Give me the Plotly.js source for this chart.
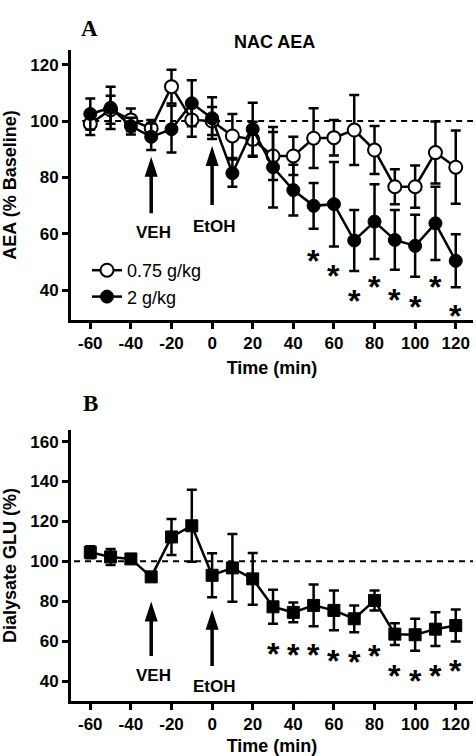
<!DOCTYPE html>
<html>
<head>
<meta charset="utf-8">
<script src="https://cdn.plot.ly/plotly-3.0.1.min.js"></script>
<style>html,body{margin:0;padding:0;background:#fff;}#chart{width:476px;height:756px;}</style>
</head>
<body>
<div id="chart"></div>
<script>
// ---- data ----
const time = [-60,-50,-40,-30,-20,-10,0,10,20,30,40,50,60,70,80,90,100,110,120];
const aeaLow = [99,104,100.4,97.4,112.2,100.4,100,94.7,93.5,87.6,87.6,93.9,94.1,96.8,89.7,76.7,76.7,88.8,83.6];
const aeaLowErr = [4,5,4,3,6,6,5,7.8,6.2,8.5,6.8,10.6,6.3,12.4,8.5,6.2,7.5,11,13];
const aeaHigh = [102.5,104.7,98.2,94.4,97.1,106.3,101,81.5,97.1,83.6,75.5,69.9,70.5,57.6,64.3,57.8,55.7,63.7,50.4];
const aeaHighErr = [5.5,7.5,3,4.7,8.3,8.2,7.4,4.8,9.4,14.3,9,8.1,15,10.8,13.3,10.6,11,13,9.4];
const glu = [104.5,102.2,101.2,92.2,112.2,117.8,93,96.7,91.2,77.2,74.4,77.9,75.4,71.2,80.4,63.5,63.2,66,67.8];
const gluErr = [3,4,1.5,1,9,18,11,17,13,8.5,5,10.5,10,6.7,5,5.5,8,8.5,8];
const starAx = [50,60,70,80,90,100,110,120];
const starAy = [53.1,47.8,38.9,43.9,39.1,36.8,43.9,33.6];
const starBx = [30,40,50,60,70,80,90,100,110,120];
const starBy = [57.3,56.8,56.8,54,53.1,56.5,46.4,43.9,46.4,48.9];
const xTicks = [-60,-40,-20,0,20,40,60,80,100,120];
const xTickText = ['-60','-40','-20','0','20','40','60','80','100','120'];
const yTicksA = [40,60,80,100,120];
const yTicksB = [40,60,80,100,120,140,160];
const arrowLabels = ['VEH','EtOH'];
const arrowX = [-30,0];
const arrowTipA = [87.3,91.1], arrowBaseA = [67.3,70.2], arrowLabelA = [60.5,62.6];
const arrowTipB = [79.9,75.7], arrowBaseB = [52.6,47.6], arrowLabelB = [42.6,37.1];
const legendNames = ['0.75 g/kg','2 g/kg'];

// ---- layout constants ----
const W = 476, H = 756;
const M = {l:71, r:3, t:50, b:55};
const plotW = W - M.l - M.r, plotH = H - M.t - M.b;
const domA = [0.5853, 1], domB = [0, 0.4163];
const rangeX = [-69.5, 128.5];
const rangeA = [29.4, 125.2], rangeB = [30, 165.8];
const pxA = plotH*(domA[1]-domA[0])/(rangeA[1]-rangeA[0]);
const pxB = plotH*(domB[1]-domB[0])/(rangeB[1]-rangeB[0]);
const SANS = 'Liberation Sans, Arial, sans-serif';
const SERIF = 'Liberation Serif, Times New Roman, serif';
const px2paperX = p => (p - M.l)/plotW;
const px2paperY = p => (H - M.b - p)/plotH;

const errStyle = arr => ({type:'data', array:arr, visible:true, color:'#000', thickness:2.5, width:5});

const traces = [
  {x:time, y:aeaLow, xaxis:'x', yaxis:'y', name:legendNames[0], mode:'lines+markers',
   line:{color:'#000', width:2.5},
   marker:{symbol:'circle', size:13, color:'#fff', line:{color:'#000', width:2}},
   error_y:errStyle(aeaLowErr), showlegend:true},
  {x:time, y:aeaHigh, xaxis:'x', yaxis:'y', name:legendNames[1], mode:'lines+markers',
   line:{color:'#000', width:2.5},
   marker:{symbol:'circle', size:13, color:'#000', line:{color:'#000', width:1}},
   error_y:errStyle(aeaHighErr), showlegend:true},
  {x:time, y:glu, xaxis:'x2', yaxis:'y2', name:'GLU', mode:'lines+markers',
   line:{color:'#000', width:2.5},
   marker:{symbol:'square', size:12, color:'#000', line:{color:'#000', width:1}},
   error_y:errStyle(gluErr), showlegend:false}
];

const axisCommon = {
  showline:true, linecolor:'#000', linewidth:3, ticks:'outside', ticklen:6, tickwidth:3, tickcolor:'#000',
  showgrid:false, zeroline:false, tickfont:{family:SANS, size:17, color:'#000', weight:'bold'}, fixedrange:true
};
const titleFont = {family:SANS, size:18, color:'#000', weight:'bold'};

const shapes = [];
function dashLine(xref, yref, x0) {
  shapes.push({type:'line', xref:xref, yref:yref, x0:x0, x1:rangeX[1], y0:100, y1:100, layer:'below',
    line:{color:'#000', width:2, dash:'6px,5px'}});
}
dashLine('x','y',-64);
dashLine('x2','y2',-68);

function arrow(xref, yref, x, tip, base, pxPer) {
  const L = (tip - base)*pxPer;
  shapes.push({type:'path', xref:xref, yref:yref, xsizemode:'pixel', ysizemode:'pixel', xanchor:x, yanchor:tip,
    path:`M0,0 L6.5,-20 L1.75,-20 L1.75,-${L.toFixed(1)} L-1.75,-${L.toFixed(1)} L-1.75,-20 L-6.5,-20 Z`,
    fillcolor:'#000', line:{width:0}});
}
arrowX.forEach((x,i) => {
  arrow('x','y',x,arrowTipA[i],arrowBaseA[i],pxA);
  arrow('x2','y2',x,arrowTipB[i],arrowBaseB[i],pxB);
});

const annotations = [];
const labelFont = {family:SANS, size:17, color:'#000', weight:'bold'};
arrowX.forEach((x,i) => {
  annotations.push({xref:'x', yref:'y', x:x+1, y:arrowLabelA[i], text:arrowLabels[i], showarrow:false, font:labelFont});
  annotations.push({xref:'x2', yref:'y2', x:x+1, y:arrowLabelB[i], text:arrowLabels[i], showarrow:false, font:labelFont});
});
const starFont = {family:SANS, size:32, color:'#000', weight:'bold'};
starAx.forEach((x,i) => annotations.push({xref:'x', yref:'y', x:x, y:starAy[i], text:'*', showarrow:false, font:starFont, yshift:-7.5}));
starBx.forEach((x,i) => annotations.push({xref:'x2', yref:'y2', x:x, y:starBy[i], text:'*', showarrow:false, font:starFont, yshift:-7.5}));
annotations.push({xref:'paper', yref:'paper', x:px2paperX(79), y:px2paperY(14), text:'A', showarrow:false,
  font:{family:SERIF, size:23, color:'#000', weight:'bold'}});
annotations.push({xref:'paper', yref:'paper', x:px2paperX(81), y:px2paperY(403), text:'B', showarrow:false,
  font:{family:SERIF, size:23, color:'#000', weight:'bold'}});
annotations.push({xref:'paper', yref:'paper', x:px2paperX(274), y:px2paperY(30), text:'NAC AEA', showarrow:false,
  font:{family:SANS, size:18, color:'#000', weight:'bold'}});

const layout = {
  width:W, height:H, margin:M, paper_bgcolor:'#fff', plot_bgcolor:'#fff',
  showlegend:true,
  legend:{x:px2paperX(87), y:px2paperY(252), xanchor:'left', yanchor:'top', bgcolor:'rgba(0,0,0,0)',
    font:{family:SANS, size:18, color:'#000'}, tracegroupgap:0, itemclick:false},
  xaxis:Object.assign({}, axisCommon, {domain:[0,1], anchor:'y', range:rangeX, tickvals:xTicks, ticktext:xTickText,
    title:{text:'Time (min)', font:titleFont, standoff:10}}),
  yaxis:Object.assign({}, axisCommon, {domain:domA, anchor:'x', range:rangeA, tickvals:yTicksA,
    title:{text:'AEA (% Baseline)', font:titleFont, standoff:13}}),
  xaxis2:Object.assign({}, axisCommon, {domain:[0,1], anchor:'y2', range:rangeX, tickvals:xTicks, ticktext:xTickText,
    title:{text:'Time (min)', font:titleFont, standoff:6}}),
  yaxis2:Object.assign({}, axisCommon, {domain:domB, anchor:'x2', range:rangeB, tickvals:yTicksB,
    title:{text:'Dialysate GLU (%)', font:titleFont, standoff:13}}),
  shapes:shapes, annotations:annotations
};

Plotly.newPlot('chart', traces, layout, {displayModeBar:false, staticPlot:true});
</script>
</body>
</html>
